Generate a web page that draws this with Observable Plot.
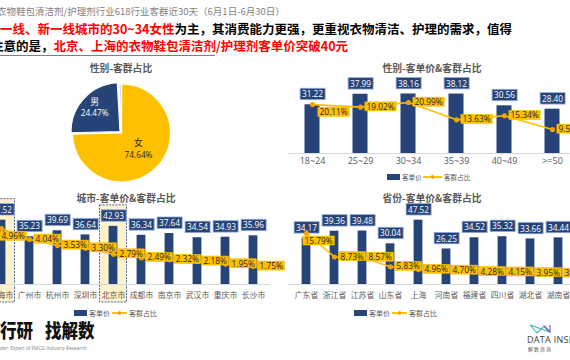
<!DOCTYPE html>
<html><head><meta charset="utf-8">
<script src="https://cdn.jsdelivr.net/npm/d3@7"></script>
<script src="https://cdn.jsdelivr.net/npm/@observablehq/plot@0.6"></script>
<style>
html,body{margin:0;padding:0;background:#fff;}
#root{position:relative;width:570px;height:360px;overflow:hidden;background:#fff;font-family:"Noto Sans CJK SC","Open Sans",sans-serif;}
.abs{position:absolute;white-space:nowrap;}
.ttl{font-size:9.8px;font-weight:bold;color:#595959;transform:translateX(-50%);line-height:12px;}
.lg{font-size:6.8px;color:#595959;line-height:8px;}
</style></head>
<body><div id="root"></div>
<script>
// ---------------- data ----------------
const genderCats = ["女", "男", "未知"];
const genderShares = [74.64, 24.47, 0.89];

const ageCats = ["18~24", "25~29", "30~34", "35~39", "40~49", ">=50"];
const agePrice = [31.22, 37.99, 38.16, 38.12, 30.56, 28.40];
const ageShare = [20.11, 19.02, 20.99, 13.63, 15.34, 9.50];

const cityCats = ["上海市", "广州市", "杭州市", "深圳市", "北京市", "成都市", "南京市", "武汉市", "重庆市", "长沙市"];
const cityPrice = [47.52, 35.23, 39.69, 36.64, 42.93, 36.34, 37.64, 34.54, 34.93, 35.96];
const cityShare = [4.96, 4.04, 3.53, 3.30, 2.79, 2.49, 2.32, 2.18, 1.95, 1.75];
const cityHighlight = ["上海市", "北京市"];

const provCats = ["广东省", "浙江省", "江苏省", "山东省", "上海", "河南省", "福建省", "四川省", "湖北省", "湖南省"];
const provPrice = [34.17, 39.36, 39.48, 30.04, 47.52, 26.25, 34.52, 35.32, 33.66, 34.44];
const provShare = [15.79, 8.73, 8.57, 5.83, 4.96, 4.70, 4.28, 4.15, 3.95, 3.80];

const legendNames = ["客单价", "客群占比"];
// --------------------------------------

const NAVY = "#264478", YEL = "#FFC000";
const NUMFONT = "'Open Sans','Noto Sans CJK SC',sans-serif";
const CJKFONT = "'Noto Sans CJK SC',sans-serif";
const root = document.getElementById("root");

function addDiv(html, left, top, cls, css) {
  const d = document.createElement("div");
  d.className = "abs " + (cls || "");
  d.style.left = left + "px"; d.style.top = top + "px";
  if (css) d.style.cssText += css;
  d.innerHTML = html;
  root.appendChild(d);
  return d;
}
function placeSvg(svg, left, top, w) {
  const d = document.createElement("div");
  d.className = "abs";
  d.style.left = left + "px"; d.style.top = top + "px"; d.style.width = w + "px";
  d.appendChild(svg);
  root.appendChild(d);
}
const baseStyle = {background: "none", overflow: "visible", maxWidth: "none", fontFamily: NUMFONT};

// ---------- header text ----------
addDiv("衣物鞋包清洁剂/护理剂行业618行业客群近30天（6月1日-6月30日）", -3, 5, "", "font-size:9.5px;color:#7f7f7f;line-height:13px;");
addDiv('<span style="color:#ff0000">一线、新一线城市的30~34女性</span>为主，其消费能力更强，更重视衣物清洁、护理的需求，值得', 0, 21, "", "font-size:12.5px;font-weight:bold;color:#000;line-height:16px;");
addDiv('注意的是，<span style="color:#ff0000">北京、上海的衣物鞋包清洁剂/护理剂客单价突破40元</span>', -9, 38, "", "font-size:12.5px;font-weight:bold;color:#000;line-height:16px;");
addDiv("", 0, 54.5, "", "width:215px;height:1px;background:#7f7f7f;");

// ---------- titles ----------
addDiv("性别-客群占比", 121, 62, "ttl");
addDiv("性别-客单价&amp;客群占比", 432, 62, "ttl");
addDiv("城市-客单价&amp;客群占比", 126, 191.5, "ttl");
addDiv("省份-客单价&amp;客群占比", 432, 191.5, "ttl");

// ---------- pie ----------
const PIE_R = 49, PIE_CX = 121.5, PIE_CY = 61;
const pieArcs = d3.pie().sort(null).value(d => d.v)(genderCats.map((c, i) => ({c, v: genderShares[i]})));
const pieColor = d3.scaleOrdinal(genderCats, [YEL, NAVY, "#D6DCE5"]);
const arcGen = d3.arc().innerRadius(0).outerRadius(PIE_R);
const pieLabels = pieArcs.filter(a => a.data.v > 5).map(a => {
  const lr = a.data.v > 50 ? PIE_R * 0.47 : PIE_R * 0.76;
  const [px, py] = d3.arc().innerRadius(lr).outerRadius(lr).centroid(a);
  return {c: a.data.c, v: a.data.v, x: PIE_CX + px, y: PIE_CY + py, col: a.data.v > 50 ? "#262626" : "#ffffff"};
});
const pie = Plot.plot({
  width: 240, height: 122, margin: 0,
  style: baseStyle,
  x: {domain: [0, 240], range: [0, 240], axis: null},
  y: {domain: [0, 122], range: [0, 122], axis: null},
  marks: [
    (index, scales) => {
      const g = d3.create("svg:g");
      g.selectAll("path").data(pieArcs).join("path")
        .attr("d", arcGen)
        .attr("fill", d => pieColor(d.data.c))
        .attr("stroke", "#fff").attr("stroke-width", 1.2)
        .attr("transform", d => {
          const ex = d.data.c === "男" ? 2 : 0;
          const m = (d.startAngle + d.endAngle) / 2;
          return `translate(${scales.x(PIE_CX) + ex * Math.sin(m)},${scales.y(PIE_CY) - ex * Math.cos(m)})`;
        });
      return g.node();
    },
    Plot.text(pieLabels, {x: "x", y: "y", text: "c", dy: -6, fill: "col", fontSize: 8.8, fontFamily: CJKFONT}),
    Plot.text(pieLabels, {x: "x", y: "y", text: d => d.v.toFixed(2) + "%", dy: 5.5, fill: "col", fontSize: 8.3})
  ]
});
placeSvg(pie, 0, 72, 240);

// ---------- dual charts ----------
function dualChart(o) {
  const data = o.cats.map((c, i) => ({c, p: o.price[i], s: o.share[i], i}));
  const xOpt = {type: "band", domain: o.cats, padding: 0, axis: null};
  const marks = [];
  if (o.hl) {
    marks.push(Plot.barY(data.filter(d => o.hl.includes(d.c)), {
      x: "c", y1: o.hlBottom, y2: d => d.p + o.hlTop,
      fill: "#FFF2CC", stroke: "#2F5597", strokeDasharray: "2,1.2", strokeWidth: 0.9,
      insetLeft: 0.5, insetRight: 0.5
    }));
  }
  marks.push(Plot.ruleY([0], {stroke: "#d9d9d9", strokeWidth: 1}));
  marks.push(Plot.barY(data, {x: "c", y: "p", fill: NAVY, insetLeft: o.inset, insetRight: o.inset}));
  marks.push(Plot.text(data, {x: "c", text: "c", frameAnchor: "bottom", dy: o.labDy, fill: "#595959", fontSize: o.labSize, fontFamily: o.labFont}));
  marks.push(Plot.text(data, {x: "c", y: "p", text: d => d.p.toFixed(2), dy: -10, fill: "#ffffff", fontSize: 8.3, ariaDescription: "navybox"}));
  const bars = Plot.plot({
    width: o.width, height: o.height, marginLeft: o.mL, marginRight: o.mR, marginTop: 0, marginBottom: o.mB,
    style: baseStyle, x: xOpt, y: {domain: o.yDomain, axis: null}, marks
  });
  const lines = Plot.plot({
    width: o.width, height: o.height, marginLeft: o.mL, marginRight: o.mR, marginTop: 0, marginBottom: o.mB,
    style: baseStyle, x: xOpt, y: {domain: o.y2Domain, axis: null},
    marks: [
      Plot.line(data, {x: "c", y: "s", stroke: YEL, strokeWidth: 1.6}),
      Plot.dot(data, {x: "c", y: "s", r: 1.8, fill: "#F5A300", stroke: "#F5A300"}),
      Plot.text(data, {filter: d => d.i === 0, x: "c", y: "s", text: d => d.s.toFixed(2) + "%", textAnchor: "start", dx: o.firstDx, dy: 8, fill: "#262626", fontSize: 8.3, ariaDescription: "yelbox"}),
      Plot.text(data, {filter: d => d.i > 0, x: "c", y: "s", text: d => d.s.toFixed(2) + "%", textAnchor: "start", dx: 6, fill: "#262626", fontSize: 8.3, ariaDescription: "yelbox"})
    ]
  });
  placeSvg(bars, o.left, o.top, o.width);
  placeSvg(lines, o.left, o.top, o.width);
}

dualChart({cats: ageCats, price: agePrice, share: ageShare, left: 285, top: 75, width: 300, height: 100,
  mL: 3, mR: 9, mB: 22, yDomain: [0, 50], y2Domain: [-0.7, 32.5], inset: 16.5,
  labDy: 10, labSize: 9, labFont: NUMFONT, firstDx: 7});
dualChart({cats: cityCats, price: cityPrice, share: cityShare, left: -18, top: 196, width: 300, height: 108,
  mL: 1, mR: 12, mB: 20, yDomain: [0, 65], y2Domain: [0.22, 7.68], inset: 9.6,
  labDy: 13, labSize: 7.8, labFont: CJKFONT, firstDx: 0,
  hl: cityHighlight, hlBottom: -13.3, hlTop: 15.5});
dualChart({cats: provCats, price: provPrice, share: provShare, left: 285, top: 196, width: 300, height: 108,
  mL: 3, mR: 9, mB: 20, yDomain: [0, 65], y2Domain: [0.51, 26.8], inset: 9.6,
  labDy: 13, labSize: 7.8, labFont: CJKFONT, firstDx: -2});

// label boxes
const BOXES = {
  navybox: {fill: NAVY, stroke: "#8FAADC", sw: 0.8, px: 1.8, py: 0.2},
  yelbox: {fill: YEL, stroke: "#F2B800", sw: 0.6, px: 1.6, py: -1}
};
root.querySelectorAll("g[aria-description]").forEach(g => {
  const spec = BOXES[g.getAttribute("aria-description")];
  if (!spec) return;
  g.querySelectorAll("text").forEach(t => {
    const bb = t.getBBox();
    const r = document.createElementNS("http://www.w3.org/2000/svg", "rect");
    r.setAttribute("x", bb.x - spec.px);
    r.setAttribute("y", bb.y - spec.py);
    r.setAttribute("width", bb.width + 2 * spec.px);
    r.setAttribute("height", bb.height + 2 * spec.py);
    r.setAttribute("fill", spec.fill);
    r.setAttribute("stroke", spec.stroke);
    r.setAttribute("stroke-width", spec.sw);
    const tr = t.getAttribute("transform");
    if (tr) r.setAttribute("transform", tr);
    t.parentNode.insertBefore(r, t);
  });
});

// ---------- legends ----------
function legend(x, y, lineStart, lineLen, fs) {
  addDiv("", x, y - 3, "", `width:13px;height:6px;background:${NAVY};`);
  addDiv(legendNames[0], x + 15, y - 4.5, "lg", `font-size:${fs}px;`);
  addDiv("", x + lineStart, y - 0.8, "", `width:${lineLen}px;height:1.6px;background:${YEL};`);
  addDiv("", x + lineStart + lineLen / 2 - 1.8, y - 1.8, "", `width:3.6px;height:3.6px;border-radius:50%;background:#F5A300;`);
  addDiv(legendNames[1], x + lineStart + lineLen + 2, y - 4.5, "lg", `font-size:${fs}px;`);
}
legend(387, 177, 36, 19, 6.6);
legend(74, 313, 38, 15, 7);
legend(354, 313, 38, 15, 7);

// ---------- footer ----------
addDiv('行研<span style="margin-left:12px">找解数</span>', 0, 320, "", "font-size:16.5px;font-weight:900;color:#111;line-height:20px;transform:scaleY(1.15);transform-origin:0 50%;");
addDiv("Insider- Expert of FMCG Industry Research", -8, 345, "", "font-size:4.8px;color:#7f7f7f;font-family:'Open Sans',sans-serif;line-height:6px;");
addDiv('<svg width="24" height="14"><polyline points="1,2 21,9 15,3 8,10 1,2" fill="none" stroke="#3BB3B0" stroke-width="1.1"/><polyline points="15,3 21,9 21,2" fill="none" stroke="#6A4FB3" stroke-width="1.1"/></svg>', 529, 318, "");
addDiv("DATA INSIGHT", 527, 334, "", "font-size:9px;color:#404040;font-family:'Open Sans',sans-serif;line-height:11px;letter-spacing:0.3px;");
addDiv("解数咨询", 528, 346, "", "font-size:5px;color:#595959;line-height:6px;letter-spacing:1px;");
</script>
</body></html>
